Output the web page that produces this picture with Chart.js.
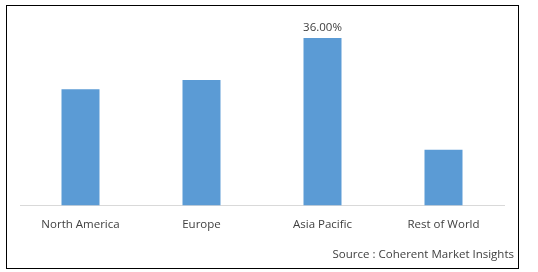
<!DOCTYPE html>
<html>
<head>
<meta charset="utf-8">
<script src="https://cdn.jsdelivr.net/npm/chart.js@4/dist/chart.umd.min.js"></script>
<style>
  html, body { margin: 0; padding: 0; background: #fff; }
  #frame {
    position: absolute; left: 6px; top: 5px;
    width: 511px; height: 262px;
    border: 1px solid #000;
  }
  #chart { display: block; }
</style>
</head>
<body>
<div id="frame"><canvas id="chart" width="511" height="262"></canvas></div>
<script>
'use strict';

// regional share, percent
const regions = ['North America', 'Europe', 'Asia Pacific', 'Rest of World'];
const shares = [25, 27, 36, 12];
const labelled = ['Asia Pacific'];
const sourceText = 'Source : Coherent Market Insights';

const textColor = '#404040';
const barColor = '#5b9bd5';
const fontFamily = "'Open Sans', 'Liberation Sans', sans-serif";

// value label above the bars that carry one, plus the source note
const annotations = {
    id: 'annotations',
    afterDraw(chart) {
        const ctx = chart.ctx;
        const meta = chart.getDatasetMeta(0);
        ctx.save();
        ctx.font = '11.5px ' + fontFamily;
        ctx.fillStyle = textColor;
        ctx.textAlign = 'center';
        ctx.textBaseline = 'bottom';
        meta.data.forEach((bar, i) => {
            if (!labelled.includes(regions[i])) return;
            ctx.fillText(shares[i].toFixed(2) + '%', bar.x, bar.y - 5);
        });

        ctx.textAlign = 'right';
        ctx.textBaseline = 'middle';
        ctx.fillText(sourceText, chart.width - 4, chart.height - 13);
        ctx.restore();
    }
};

new Chart(document.getElementById('chart'), {
    type: 'bar',
    data: {
        labels: regions,
        datasets: [{
            data: shares,
            backgroundColor: barColor,
            barPercentage: 0.314,
            categoryPercentage: 1
        }]
    },
    options: {
        responsive: false,
        animation: false,
        events: [],
        layout: { padding: { top: 13.4, left: 13, right: 14, bottom: 20.4 } },
        plugins: {
            legend: { display: false },
            tooltip: { enabled: false }
        },
        scales: {
            x: {
                grid: { display: false, drawTicks: false },
                border: { display: true, color: '#d9d9d9', width: 1 },
                ticks: {
                    color: textColor,
                    padding: 12,
                    font: { family: fontFamily, size: 11.5 }
                },
                afterFit(scale) { scale.height = 42; }
            },
            y: {
                display: false,
                min: 0,
                max: 40
            }
        }
    },
    plugins: [annotations]
});
</script>
</body>
</html>
